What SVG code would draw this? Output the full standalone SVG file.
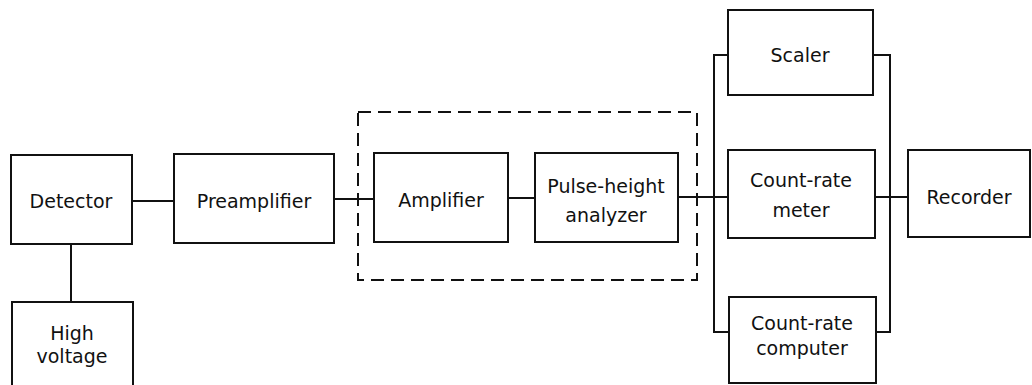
<svg xmlns="http://www.w3.org/2000/svg" width="1032" height="385" viewBox="0 0 1032 385">
<style>
.box{fill:none;stroke:#111;stroke-width:2}
.dash{fill:none;stroke:#111;stroke-width:2;stroke-dasharray:13 7}
.ln{fill:none;stroke:#111;stroke-width:2}
text{font-family:"DejaVu Sans",sans-serif;font-size:19px;fill:#111;text-anchor:middle}
</style>
<rect width="1032" height="385" fill="#fff"/>
<g id="connectors">
<line class="ln" x1="132" y1="201" x2="174" y2="201"/>
<line class="ln" x1="71" y1="244" x2="71" y2="302"/>
<line class="ln" x1="334" y1="199" x2="374" y2="199"/>
<line class="ln" x1="508" y1="198" x2="535" y2="198"/>
<line class="ln" x1="678" y1="197" x2="728" y2="197"/>
<polyline class="ln" points="728,55 714,55 714,332 729,332"/>
<polyline class="ln" points="873,55 890,55 890,332 876,332"/>
<line class="ln" x1="875" y1="197" x2="908" y2="197"/>
</g>
<g id="group-dashed"><rect class="dash" x="358" y="112" width="339" height="168"/></g>
<g id="detector"><rect class="box" x="11" y="155" width="121" height="89"/><text x="71" y="208">Detector</text></g>
<g id="highvoltage"><rect class="box" x="12" y="302" width="121" height="90"/><text x="72" y="340">High</text><text x="72" y="363">voltage</text></g>
<g id="preamplifier"><rect class="box" x="174" y="154" width="160" height="89"/><text x="254" y="208">Preamplifier</text></g>
<g id="amplifier"><rect class="box" x="374" y="153" width="134" height="89"/><text x="441" y="207">Amplifier</text></g>
<g id="pha"><rect class="box" x="535" y="153" width="143" height="89"/><text x="606" y="193">Pulse-height</text><text x="606" y="222">analyzer</text></g>
<g id="scaler"><rect class="box" x="728" y="10" width="145" height="85"/><text x="800" y="62">Scaler</text></g>
<g id="countratemeter"><rect class="box" x="728" y="150" width="147" height="88"/><text x="801" y="187">Count-rate</text><text x="801" y="217">meter</text></g>
<g id="countratecomputer"><rect class="box" x="729" y="297" width="147" height="86"/><text x="802" y="330">Count-rate</text><text x="802" y="355">computer</text></g>
<g id="recorder"><rect class="box" x="908" y="150" width="122" height="87"/><text x="969" y="204">Recorder</text></g>
</svg>
